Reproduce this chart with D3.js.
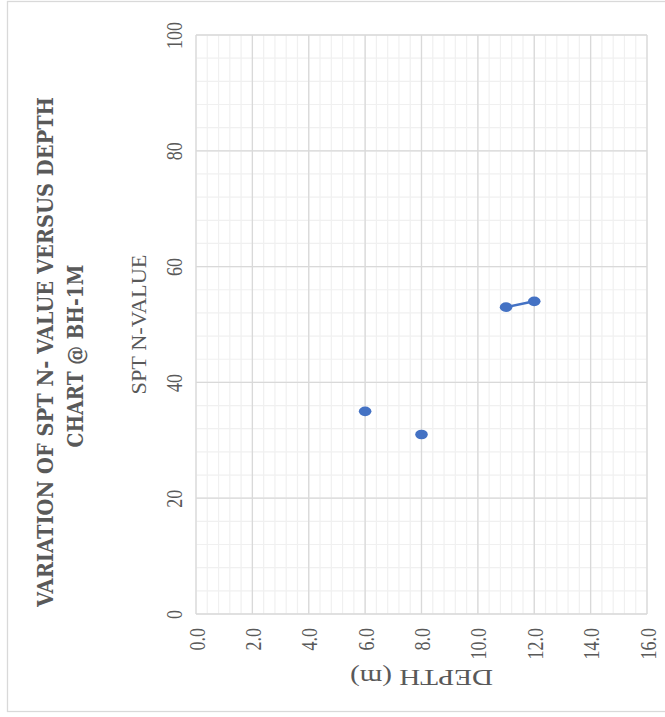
<!DOCTYPE html>
<html>
<head>
<meta charset="utf-8">
<script src="https://cdn.jsdelivr.net/npm/d3@7"></script>
<style>
  body { margin: 0; background: #fff; }
  svg { display: block; }
</style>
</head>
<body>
<svg id="chart" width="665" height="717"></svg>
<script>
// SPT data, blank rows break the line like empty cells in the sheet
const depth = [6, null, 8, null, 11, 12];
const nValue = [35, null, 31, null, 53, 54];
const xTicks = [0, 2, 4, 6, 8, 10, 12, 14, 16];
const yTicks = [0, 20, 40, 60, 80, 100];
const titleLines = ["VARIATION OF SPT N- VALUE VERSUS DEPTH", "CHART @ BH-1M"];

const svg = d3.select('#chart');
const grey = '#595959';
const blue = '#4472c4';

// outer chart border
svg.append('rect').attr('x', 7.5).attr('y', 1.5).attr('width', 670).attr('height', 710)
    .attr('fill', 'none').attr('stroke', '#d9d9d9').attr('stroke-width', 1.3);

const x = d3.scaleLinear().domain([0, 16]).range([196, 647]);
const y = d3.scaleLinear().domain([0, 100]).range([614, 35]);

// minor grid
svg.append('g').selectAll('line').data(d3.range(0, 16.01, 0.4))
    .enter().append('line')
    .attr('x1', d => x(d)).attr('x2', d => x(d)).attr('y1', y(0)).attr('y2', y(100))
    .attr('stroke', '#f0f0f0').attr('stroke-width', 1.2);
svg.append('g').selectAll('line').data(d3.range(0, 100.01, 4))
    .enter().append('line')
    .attr('y1', d => y(d)).attr('y2', d => y(d)).attr('x1', x(0)).attr('x2', x(16))
    .attr('stroke', '#f0f0f0').attr('stroke-width', 1.2);

// major grid
svg.append('g').selectAll('line').data(xTicks)
    .enter().append('line')
    .attr('x1', d => x(d)).attr('x2', d => x(d)).attr('y1', y(0)).attr('y2', y(100))
    .attr('stroke', '#d9d9d9').attr('stroke-width', 1.3);
svg.append('g').selectAll('line').data(yTicks)
    .enter().append('line')
    .attr('y1', d => y(d)).attr('y2', d => y(d)).attr('x1', x(0)).attr('x2', x(16))
    .attr('stroke', '#d9d9d9').attr('stroke-width', 1.3);

// x axis labels (rotated)
const gx = svg.append('g')
    .call(d3.axisBottom(x).tickValues(xTicks).tickFormat(d3.format('.1f')).tickSize(0));
gx.select('.domain').remove();
gx.selectAll('text')
    .attr('y', null).attr('dy', null)
    .attr('text-anchor', 'end')
    .attr('font-family', 'Liberation Serif, serif').attr('font-size', 18)
    .attr('fill', grey)
    .attr('transform', 'translate(8,628) scale(1.28,1) rotate(-90)');

// y axis labels (rotated)
const gy = svg.append('g')
    .call(d3.axisLeft(y).tickValues(yTicks).tickFormat(d3.format('d')).tickSize(0));
gy.select('.domain').remove();
gy.selectAll('text')
    .attr('x', null).attr('dy', null)
    .attr('text-anchor', 'middle')
    .attr('font-family', 'Liberation Serif, serif').attr('font-size', 18)
    .attr('fill', grey)
    .attr('transform', 'translate(182,0) scale(1.28,1) rotate(-90)');

// axis titles
svg.append('text')
    .attr('transform', 'translate(146,' + ((y(0) + y(100)) / 2) + ') rotate(-90)')
    .attr('text-anchor', 'middle')
    .attr('font-family', 'Liberation Serif, serif').attr('font-size', 21.5)
    .attr('textLength', 140).attr('lengthAdjust', 'spacingAndGlyphs')
    .attr('fill', grey)
    .text('SPT N-VALUE');

svg.append('text')
    .attr('transform', 'translate(' + ((x(0) + x(16)) / 2) + ',670) rotate(180)')
    .attr('text-anchor', 'middle')
    .attr('font-family', 'Liberation Serif, serif').attr('font-size', 23)
    .attr('textLength', 143).attr('lengthAdjust', 'spacingAndGlyphs')
    .attr('fill', grey)
    .text('DEPTH (m)');

// chart title
const titlePos = [[53, 352, 510], [83, 356, 183]];
titleLines.forEach(function(t, i) {
    const p = titlePos[i];
    svg.append('text')
        .attr('transform', 'translate(' + p[0] + ',' + p[1] + ') rotate(-90)')
        .attr('text-anchor', 'middle')
        .attr('font-family', 'DejaVu Serif, serif').attr('font-weight', 'bold')
        .attr('font-size', 22.5)
        .attr('textLength', p[2]).attr('lengthAdjust', 'spacingAndGlyphs')
        .attr('fill', grey)
        .text(t);
});

// series
const pts = depth.map((d, i) => ({ d: d, n: nValue[i] }));
const line = d3.line()
    .defined(p => p.d !== null && p.n !== null)
    .x(p => x(p.d)).y(p => y(p.n));
svg.append('path').datum(pts)
    .attr('d', line)
    .attr('fill', 'none').attr('stroke', blue).attr('stroke-width', 2.5);

svg.append('g').selectAll('ellipse').data(pts.filter(p => p.d !== null))
    .enter().append('ellipse')
    .attr('cx', p => x(p.d)).attr('cy', p => y(p.n))
    .attr('rx', 6.3).attr('ry', 4.8)
    .attr('fill', blue);
</script>
</body>
</html>
